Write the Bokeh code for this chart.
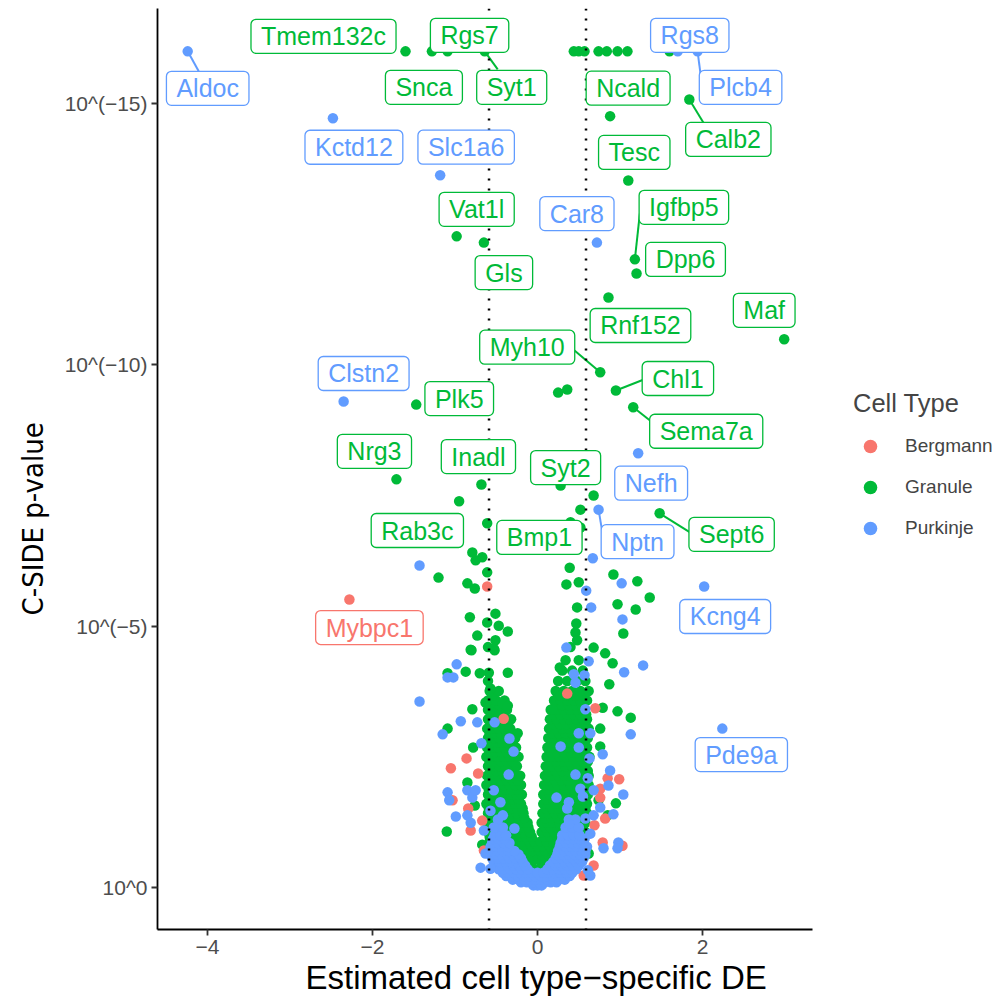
from bokeh.plotting import figure
from bokeh.models import Range1d, Span, Label, Legend, LegendItem, FixedTicker, Title
from bokeh.embed import file_html
from bokeh.resources import INLINE

# ---------------- data ----------------
cell_types = ["Bergmann", "Granule", "Purkinje"]
type_colors = {"Bergmann": "#F8766D", "Granule": "#00BA38", "Purkinje": "#619CFF"}

# labelled genes: estimated DE (x) and -log10 p-value (y, capped at 16)
gene_names = ["Aldoc", "Kctd12", "Slc1a6", "Car8", "Rgs8", "Plcb4", "Clstn2", "Nefh", "Nptn", "Kcng4", "Pde9a",
              "Tmem132c", "Snca", "Rgs7", "Syt1", "Ncald", "Calb2", "Tesc", "Vat1l", "Gls", "Igfbp5", "Dpp6",
              "Rnf152", "Maf", "Myh10", "Chl1", "Sema7a", "Plk5", "Nrg3", "Inadl", "Syt2", "Rab3c", "Bmp1",
              "Sept6", "Mybpc1"]
gene_types = ["Purkinje"] * 11 + ["Granule"] * 23 + ["Bergmann"]
gene_de = [-4.24, -2.48, -1.18, 0.72, 1.70, 1.94, -2.35, 1.22, 0.74, 2.02, 2.24,
           -1.60, -1.28, -1.09, -0.64, 0.88, 1.84, 1.10, -0.98, -0.65, 1.18, 1.20,
           0.86, 2.99, 0.76, 0.95, 1.16, -1.47, -1.71, -0.68, 0.28, -0.79, 0.52,
           1.48, -2.28]
gene_logp = [16.0, 14.72, 13.63, 12.34, 16.0, 16.0, 9.30, 8.31, 7.23, 5.76, 3.04,
             16.0, 16.0, 16.0, 16.0, 14.76, 15.08, 13.53, 12.46, 12.34, 12.02, 11.75,
             11.29, 10.49, 9.86, 9.51, 9.19, 9.24, 7.81, 7.71, 7.69, 6.41, 6.89,
             7.16, 5.51]

# other (unlabelled) genes
granule_x = [0.44, 0.50, 0.57, 0.74, 0.84, 0.97, 1.09, 1.60,
             0.36, 0.25, 0.68, 0.52, 0.40, 0.39, 0.92, 1.21, 0.35, 0.50, 1.36, 0.97, 1.19, 0.48,
             1.04, 0.47, 0.46, 0.48, 0.68, 0.82, 0.91,
             -0.95, -0.61, -0.75, -1.20, -0.85, -0.76, -0.67, -0.61, -0.82, -0.73, -0.81, -0.51,
             -0.61, -0.47, -0.36, -0.51, -0.52, -0.36, -0.59, -1.09, -0.87, -0.80, -0.53, -0.70,
             -0.57, -0.63, -0.58, -0.79, -0.42, -0.36, -1.09, -0.24, -0.78, -0.85, -1.10, -0.76, -0.67,
             0.18, 0.28, 0.27, 0.87, 0.79, 0.97, 1.13, 0.76, 0.76, 0.95, 0.74, 0.85, 0.62]
granule_y = [16.0, 16.0, 16.0, 16.0, 16.0, 16.0, 16.0, 16.0,
             9.53, 9.47, 7.50, 7.23, 6.99, 6.12, 5.99, 5.86, 5.80, 5.84, 5.55, 5.42, 5.32, 5.36,
             4.86, 5.05, 4.88, 4.73, 4.59, 4.48, 4.29,
             7.39, 6.97, 6.26, 5.93, 5.82, 5.72, 6.32, 6.03, 5.17, 4.82, 4.55, 5.24,
             5.07, 5.01, 4.90, 4.73, 4.54, 4.11, 4.11, 4.10, 4.13, 4.54, 4.57, 4.10,
             3.81, 3.54, 3.37, 3.41, 3.52, 3.48, 3.04, 2.95, 2.68, 2.01, 1.07, 1.57, 0.82,
             3.41, 3.67, 4.21, 3.89, 3.44, 3.37, 3.25, 3.04, 2.70, 1.61, 1.67, 1.38, 0.65]

# dense part of the granule cloud: (-log10 p, [DE values])
granule_rows = [
    (0.35, [-0.10, -0.04, 0.02, 0.08]),
    (0.52, [-0.30, -0.20, -0.12, -0.05, 0.02, 0.08, 0.16, 0.26]),
    (0.61, [-0.40, -0.32, -0.24, -0.16, -0.08, 0.00, 0.06, 0.14, 0.22, 0.30, 0.38, 0.46]),
    (0.70, [-0.52, -0.44, -0.36, -0.28, -0.20, -0.12, -0.05, 0.03, 0.10, 0.18, 0.26, 0.34, 0.42, 0.50]),
    (0.79, [-0.55, -0.47, -0.39, -0.31, -0.23, -0.15, -0.07, 0.00, 0.07, 0.15, 0.23, 0.31, 0.39, 0.47, 0.54]),
    (0.88, [-0.58, -0.50, -0.42, -0.34, -0.26, -0.18, -0.10, -0.04, 0.04, 0.11, 0.19, 0.27, 0.35, 0.43, 0.50, 0.56]),
    (0.97, [-0.58, -0.50, -0.42, -0.35, -0.28, -0.21, -0.14, -0.07, 0.08, 0.16, 0.24, 0.32, 0.40, 0.48, 0.56]),
    (1.06, [-0.60, -0.52, -0.44, -0.37, -0.30, -0.23, -0.16, -0.09, 0.05, 0.12, 0.20, 0.28, 0.36, 0.44, 0.52, 0.58]),
    (1.15, [-0.60, -0.53, -0.46, -0.39, -0.32, -0.25, -0.18, -0.11, 0.09, 0.16, 0.24, 0.32, 0.40, 0.48, 0.55]),
    (1.24, [-0.61, -0.54, -0.47, -0.40, -0.33, -0.26, -0.19, -0.12, 0.05, 0.12, 0.19, 0.27, 0.35, 0.43, 0.51, 0.58]),
    (1.33, [-0.58, -0.51, -0.44, -0.37, -0.30, -0.23, -0.16, 0.09, 0.17, 0.25, 0.33, 0.41, 0.49, 0.57]),
    (1.42, [-0.60, -0.53, -0.46, -0.39, -0.32, -0.25, -0.17, 0.06, 0.13, 0.21, 0.29, 0.37, 0.45, 0.53, 0.60]),
    (1.51, [-0.59, -0.52, -0.45, -0.38, -0.31, -0.24, -0.18, 0.10, 0.18, 0.26, 0.34, 0.42, 0.50, 0.58]),
    (1.60, [-0.62, -0.55, -0.48, -0.41, -0.34, -0.27, -0.20, 0.07, 0.14, 0.22, 0.30, 0.38, 0.46, 0.54, 0.60]),
    (1.69, [-0.58, -0.51, -0.44, -0.37, -0.30, -0.23, 0.11, 0.19, 0.27, 0.35, 0.43, 0.51, 0.58]),
    (1.78, [-0.60, -0.53, -0.46, -0.39, -0.32, -0.25, -0.19, 0.07, 0.15, 0.23, 0.31, 0.39, 0.47, 0.55, 0.61]),
    (1.87, [-0.59, -0.52, -0.45, -0.38, -0.31, -0.24, 0.12, 0.20, 0.28, 0.36, 0.44, 0.52, 0.59]),
    (1.96, [-0.62, -0.55, -0.48, -0.41, -0.34, -0.27, -0.20, 0.08, 0.16, 0.24, 0.32, 0.40, 0.48, 0.56, 0.62]),
    (2.05, [-0.58, -0.51, -0.44, -0.37, -0.30, -0.24, 0.13, 0.21, 0.29, 0.37, 0.45, 0.53, 0.60]),
    (2.14, [-0.61, -0.54, -0.47, -0.40, -0.33, -0.26, -0.21, 0.09, 0.17, 0.25, 0.33, 0.41, 0.49, 0.57, 0.62]),
    (2.23, [-0.57, -0.50, -0.43, -0.36, -0.29, 0.14, 0.22, 0.30, 0.38, 0.46, 0.54, 0.61]),
    (2.32, [-0.60, -0.53, -0.46, -0.39, -0.32, -0.25, 0.10, 0.18, 0.26, 0.34, 0.42, 0.50, 0.58]),
    (2.41, [-0.58, -0.51, -0.44, -0.37, -0.30, 0.15, 0.23, 0.31, 0.39, 0.47, 0.55, 0.61]),
    (2.50, [-0.62, -0.55, -0.48, -0.41, -0.34, -0.27, -0.23, 0.11, 0.19, 0.27, 0.35, 0.43, 0.51, 0.59, 0.63]),
    (2.59, [-0.58, -0.51, -0.44, -0.37, -0.30, 0.16, 0.24, 0.32, 0.40, 0.48, 0.56]),
    (2.68, [-0.61, -0.54, -0.47, -0.40, -0.33, -0.26, 0.12, 0.20, 0.28, 0.36, 0.44, 0.52, 0.60]),
    (2.77, [-0.57, -0.50, -0.43, -0.36, -0.30, 0.17, 0.25, 0.33, 0.41, 0.49, 0.57]),
    (2.86, [-0.60, -0.53, -0.46, -0.39, -0.32, -0.27, 0.13, 0.21, 0.29, 0.37, 0.45, 0.53, 0.61]),
    (2.95, [-0.58, -0.51, -0.44, -0.37, 0.18, 0.26, 0.34, 0.42, 0.50, 0.58]),
    (3.04, [-0.61, -0.54, -0.47, -0.40, -0.33, 0.14, 0.22, 0.30, 0.38, 0.46, 0.54, 0.62]),
    (3.13, [-0.57, -0.50, -0.43, -0.36, 0.19, 0.27, 0.35, 0.43, 0.51, 0.58]),
    (3.22, [-0.60, -0.53, -0.46, -0.39, -0.32, 0.15, 0.23, 0.31, 0.39, 0.47, 0.55, 0.60]),
    (3.31, [-0.56, -0.48, -0.41, 0.20, 0.28, 0.36, 0.44, 0.52, 0.59]),
    (3.40, [-0.60, -0.52, -0.44, -0.37, 0.16, 0.24, 0.32, 0.40, 0.48, 0.56]),
    (3.49, [-0.55, -0.46, 0.22, 0.30, 0.38, 0.46, 0.54]),
    (3.58, [-0.60, -0.50, -0.40, 0.20, 0.28, 0.36, 0.44, 0.52, 0.60]),
    (3.67, [-0.55, 0.25, 0.34, 0.46, 0.56]),
    (3.76, [-0.58, -0.47, 0.22, 0.32, 0.42, 0.52, 0.62]),
    (3.95, [-0.60, 0.25, 0.36, 0.48, 0.58]),
    (4.15, [0.30, 0.42, 0.55]),
    (4.35, [0.34, 0.50]),
    (4.60, [-0.60, 0.40]),
]

purkinje_x = [-1.43, 0.67, 1.02, 0.59, 0.65, 1.03, 0.35, 0.62, 1.28, 1.05, -0.98, -1.09, -1.02, -1.43,
              -0.93, -1.15, -0.73, -0.52, -0.68, -0.34, -0.29, -0.35, -1.09, -1.07, -0.85, -0.79, -0.75,
              -0.53, -0.45, -0.99, -0.85, -0.81, -0.57, -0.42, -0.65, -0.53, -0.28, -0.63, -0.69, -0.57,
              0.44, 0.46, 0.57, 0.58, 1.13, 0.50, 0.64, 0.28, 0.50, 0.79, 0.63, 0.88, 0.46, 0.61, 0.86,
              0.52, 0.55, 0.68, 1.04, 0.23, 0.38, 0.36, 0.76, 0.68, 0.92, 0.58, 0.38, 0.64, 0.98, 0.97,
              0.80, 0.61, 0.64]
purkinje_y = [6.16, 6.30, 5.82, 5.68, 5.36, 5.13, 4.59, 4.33, 4.25, 4.12, 4.27, 4.02, 4.02, 3.56,
              3.18, 2.93, 3.16, 3.16, 2.76, 2.85, 2.60, 2.16, 1.82, 1.67, 1.86, 1.72, 1.86,
              1.86, 1.63, 1.36, 1.38, 1.24, 1.47, 1.38, 1.09, 1.15, 1.13, 0.65, 0.38, 0.36,
              4.08, 3.92, 4.06, 3.41, 2.93, 2.95, 2.95, 2.70, 2.68, 2.55, 2.47, 2.24, 2.16, 2.09, 1.95,
              1.89, 1.74, 1.86, 1.78, 1.72, 1.63, 1.51, 1.53, 1.38, 1.40, 1.32, 1.22, 1.03, 0.86, 0.75,
              0.75, 0.33, 0.23]

purkinje_rows = [
    (0.04, [-0.05, 0.00, 0.05]),
    (0.10, [-0.20, -0.13, -0.06, 0.02, 0.09, 0.16, 0.23]),
    (0.15, [-0.30, -0.23, -0.16, -0.09, -0.02, 0.05, 0.12, 0.19, 0.26, 0.33]),
    (0.22, [-0.38, -0.31, -0.24, -0.17, -0.10, -0.03, 0.04, 0.11, 0.18, 0.25, 0.32, 0.39]),
    (0.28, [-0.42, -0.35, -0.28, -0.21, -0.14, -0.07, 0.00, 0.07, 0.14, 0.21, 0.28, 0.35, 0.42]),
    (0.35, [-0.47, -0.40, -0.33, -0.26, -0.19, -0.12, 0.12, 0.19, 0.26, 0.33, 0.40, 0.47]),
    (0.42, [-0.50, -0.43, -0.36, -0.29, -0.22, -0.15, 0.15, 0.22, 0.29, 0.36, 0.43, 0.50]),
    (0.49, [-0.53, -0.46, -0.39, -0.32, -0.25, -0.18, 0.19, 0.26, 0.33, 0.40, 0.47, 0.54]),
    (0.56, [-0.55, -0.48, -0.41, -0.34, -0.27, -0.20, 0.22, 0.29, 0.36, 0.43, 0.50, 0.56]),
    (0.63, [-0.57, -0.50, -0.43, -0.36, -0.29, -0.23, 0.24, 0.31, 0.38, 0.45, 0.52, 0.58]),
    (0.70, [-0.56, -0.49, -0.42, -0.35, -0.28, 0.25, 0.32, 0.39, 0.46, 0.53, 0.58]),
    (0.78, [-0.57, -0.50, -0.43, -0.36, 0.27, 0.34, 0.41, 0.48, 0.55, 0.60]),
    (0.85, [-0.55, -0.48, -0.41, -0.34, 0.28, 0.35, 0.42, 0.49, 0.55]),
    (0.93, [-0.54, -0.47, -0.40, 0.30, 0.37, 0.44, 0.51, 0.57]),
    (1.00, [-0.52, -0.45, -0.38, 0.30, 0.37, 0.44, 0.51]),
    (1.15, [-0.50, -0.42, 0.34, 0.42, 0.50]),
    (1.30, [-0.48, 0.38, 0.46]),
]

bergmann_x = [-0.61, -0.41, -0.86, -1.05, -0.72, -1.03, -0.84, -0.81, -0.67, -0.65,
              0.36, 0.70, 0.85, 0.99, 0.76, 0.76, 0.82, 0.69, 0.79, 1.03, 0.68, 0.56]
bergmann_y = [5.76, 3.23, 2.47, 2.28, 2.18, 1.67, 1.51, 1.09, 1.28, 0.71,
              3.71, 3.43, 2.09, 2.07, 1.89, 1.72, 1.32, 1.19, 0.86, 0.80, 0.42, 0.23]

de_threshold = 0.5878
y_tick_values = [0, 5, 10, 15]
y_tick_labels = ["10^0", "10^(\u22125)", "10^(\u221210)", "10^(\u221215)"]
x_tick_values = [-4, -2, 0, 2]
x_tick_labels = ["\u22124", "\u22122", "0", "2"]
x_title = "Estimated cell type\u2212specific DE"
y_title = "C-SIDE p-value"

# ---------------- layout (label placement, screen px offsets: right, down) ----------------
label_offsets = {
    "Aldoc": (20, 37), "Tmem132c": (-82, -15), "Snca": (-8, 36), "Rgs7": (22, -16), "Syt1": (27, 36),
    "Rgs8": (12, -16), "Plcb4": (43, 36), "Ncald": (18, -28), "Calb2": (39, 40), "Kctd12": (21, 29),
    "Slc1a6": (26, -28), "Tesc": (6, -28), "Vat1l": (20, -27), "Car8": (-20, -29), "Igfbp5": (49, -52),
    "Dpp6": (49, -14), "Gls": (20, 30), "Maf": (-20, -29), "Rnf152": (32, 28), "Myh10": (-73, -25),
    "Chl1": (62, -12), "Sema7a": (73, 24), "Clstn2": (20, -28), "Plk5": (43, -6), "Nrg3": (-22, -28),
    "Inadl": (-3, -28), "Syt2": (5, -18), "Nefh": (13, 30), "Rab3c": (-55, -22), "Bmp1": (-41, 10),
    "Nptn": (39, 32), "Sept6": (72, 21), "Mybpc1": (20, 28), "Kcng4": (21, 30), "Pde9a": (19, 26),
}
segment_ends = {
    "Aldoc": (11, 20), "Syt1": (13, 18), "Plcb4": (3, 23), "Calb2": (14, 23), "Igfbp5": (5, -46),
    "Myh10": (-26, -22), "Chl1": (28, -11), "Sema7a": (19, 15), "Nptn": (4, 24), "Sept6": (32, 20),
}

X0, X1 = -4.606, 3.333
Y0, Y1 = -0.804, 16.82
FW, FH = 655, 921
PX_X = FW / (X1 - X0)
PX_Y = FH / (Y1 - Y0)

p = figure(frame_width=FW, frame_height=FH, x_range=Range1d(X0, X1), y_range=Range1d(Y0, Y1),
           output_backend="svg", toolbar_location=None,
           min_border_left=157, min_border_right=196, min_border_top=8, min_border_bottom=67)
p.outline_line_color = None
p.xgrid.visible = False
p.ygrid.visible = False
p.background_fill_color = "white"

for loc in (-de_threshold, de_threshold):
    p.add_layout(Span(location=loc, dimension="height", line_color="black",
                      line_width=2.5, line_dash="2 8"))


def expand(rows):
    xs, ys = [], []
    for h, vals in rows:
        for v in vals:
            xs.append(v)
            ys.append(h)
    return xs, ys


pts = {t: ([], []) for t in cell_types}
gx, gy = expand(granule_rows)
pts["Granule"][0].extend(gx + granule_x)
pts["Granule"][1].extend(gy + granule_y)
bx, by = expand(purkinje_rows)
pts["Purkinje"][0].extend(bx + purkinje_x)
pts["Purkinje"][1].extend(by + purkinje_y)
pts["Bergmann"][0].extend(bergmann_x)
pts["Bergmann"][1].extend(bergmann_y)
for n, t, x, y in zip(gene_names, gene_types, gene_de, gene_logp):
    pts[t][0].append(x)
    pts[t][1].append(y)

renderers = {}
for t in ["Granule", "Bergmann", "Purkinje"]:
    renderers[t] = p.scatter(pts[t][0], pts[t][1], size=10.5, color=type_colors[t], line_color=None)

# segments
for n, t, x, y in zip(gene_names, gene_types, gene_de, gene_logp):
    if n in segment_ends:
        ex, ey = segment_ends[n]
        p.segment(x0=[x], y0=[y], x1=[x + ex / PX_X], y1=[y - ey / PX_Y],
                  line_color=type_colors[t], line_width=2)

# labels
for n, t, x, y in zip(gene_names, gene_types, gene_de, gene_logp):
    dx, dy = label_offsets[n]
    p.add_layout(Label(x=x, y=y, x_offset=dx, y_offset=-dy, text=n,
                       text_align="center", text_baseline="middle",
                       text_font="Liberation Sans", text_font_size="25px", text_color=type_colors[t],
                       background_fill_color="white", background_fill_alpha=1.0,
                       border_line_color=type_colors[t], border_line_width=1.3,
                       border_radius=5, padding=dict(left=10, right=10, top=3, bottom=3)))

# axes
for ax in (p.xaxis, p.yaxis):
    ax.axis_line_color = "black"
    ax.axis_line_width = 1.8
    ax.major_tick_line_color = "#333333"
    ax.major_tick_line_width = 1.8
    ax.major_tick_out = 6
    ax.major_tick_in = 0
    ax.minor_tick_line_color = None
    ax.major_label_text_font = "Liberation Sans"
    ax.major_label_text_font_size = "21px"
    ax.major_label_text_color = "#4D4D4D"
    ax.major_label_standoff = 4

p.xaxis.ticker = FixedTicker(ticks=x_tick_values)
p.xaxis.major_label_overrides = dict(zip(x_tick_values, x_tick_labels))
p.yaxis.ticker = FixedTicker(ticks=y_tick_values)
p.yaxis.major_label_overrides = dict(zip(y_tick_values, y_tick_labels))

# axis titles (placed as in the reference)
p.add_layout(Title(text=x_title, align="left", offset=148, standoff=0,
                   text_font="Liberation Sans", text_font_size="33px", text_font_style="normal",
                   text_color="black"), "below")
p.add_layout(Title(text=y_title, align="left", offset=314, standoff=24,
                   text_font="Liberation Sans Narrow, DejaVu Sans Condensed, sans-serif",
                   text_font_size="29px", text_font_style="normal", text_color="black"), "left")

legend = Legend(items=[LegendItem(label=t, renderers=[renderers[t]]) for t in cell_types],
                title="Cell Type", location=(41, 383))
legend.title_text_font = "Liberation Sans"
legend.title_text_font_size = "25.5px"
legend.title_text_font_style = "normal"
legend.title_standoff = 10
legend.label_text_font = "Liberation Sans"
legend.label_text_font_size = "19px"
legend.label_standoff = 18
legend.glyph_width = 34
legend.glyph_height = 36
legend.spacing = 5
legend.padding = 0
legend.margin = 0
legend.border_line_color = None
legend.background_fill_alpha = 0
p.add_layout(legend, "right")

open("out.html", "w").write(file_html(p, INLINE))
